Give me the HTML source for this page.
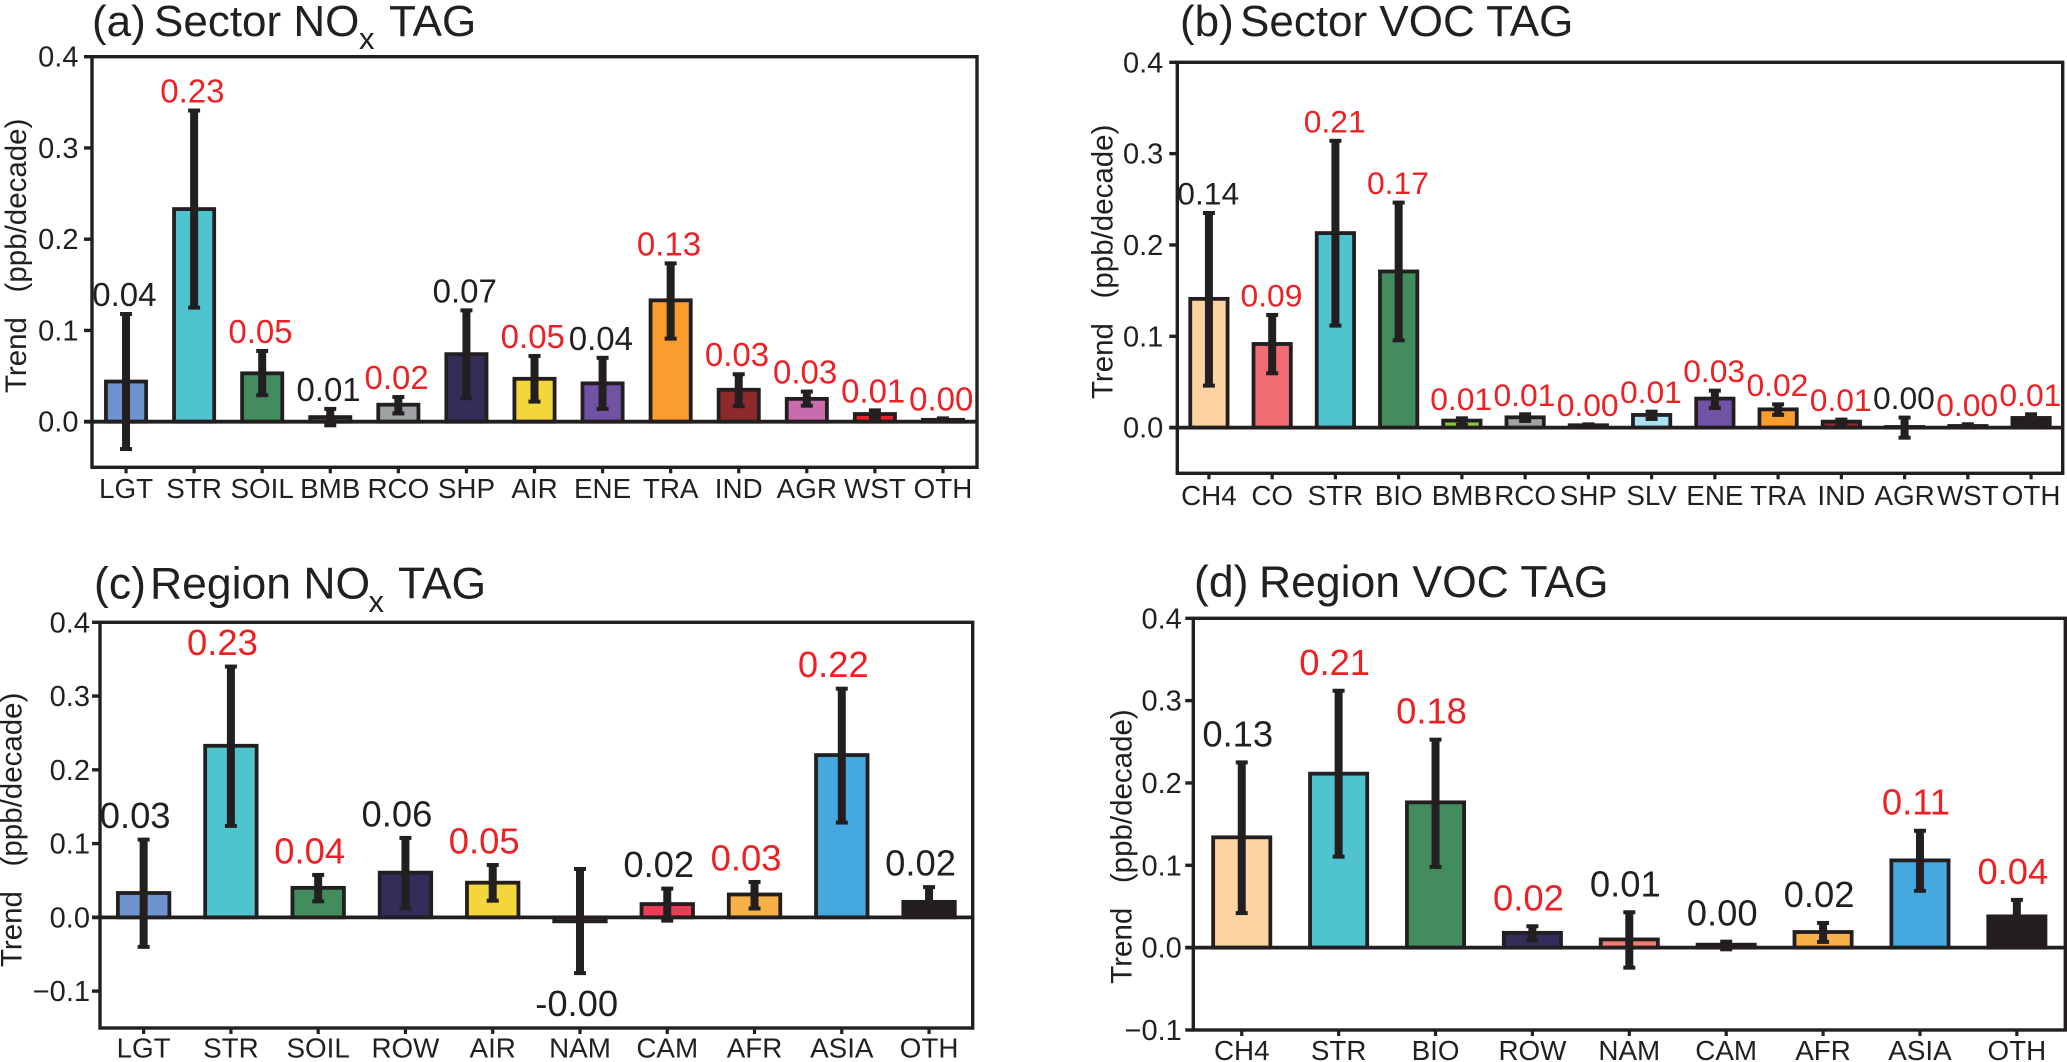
<!DOCTYPE html>
<html lang="en">
<head>
<meta charset="utf-8">
<title>Ozone trend by tag</title>
<style>
html,body{margin:0;padding:0;background:#fff;width:2067px;height:1062px;overflow:hidden}
svg{display:block}
text{font-family:"Liberation Sans",Arial,sans-serif;fill:#231f20}
</style>
</head>
<body>
<svg id="figure" width="2067" height="1062" viewBox="0 0 2067 1062" xmlns="http://www.w3.org/2000/svg">
  <rect width="2067" height="1062" fill="#ffffff"/>

  <g id="panel-a">
    <g font-size="44">
      <text x="92" y="36">(a)</text>
      <text x="154" y="36">Sector NO</text>
      <text x="359" y="49" font-size="31">x</text>
      <text x="389" y="36">TAG</text>
    </g>
    <text transform="translate(26,393) rotate(-90)" font-size="29.5">Trend&#160;&#160;&#160;(ppb/decade)</text>
  </g>

  <g id="panel-b">
    <g font-size="44">
      <text x="1180" y="36">(b)</text>
      <text x="1240" y="36">Sector VOC TAG</text>
    </g>
    <text transform="translate(1112.3,399) rotate(-90)" font-size="29.5">Trend&#160;&#160;&#160;(ppb/decade)</text>
  </g>

  <g id="panel-c">
    <g font-size="44.5">
      <text x="94" y="598.7">(c)</text>
      <text x="150" y="598.7">Region NO</text>
      <text x="368.5" y="612" font-size="31">x</text>
      <text x="398" y="598.7">TAG</text>
    </g>
    <text transform="translate(21.7,967) rotate(-90)" font-size="29.5">Trend&#160;&#160;&#160;(ppb/decade)</text>
  </g>

  <g id="panel-d">
    <g font-size="44.5">
      <text x="1194" y="597">(d)</text>
      <text x="1259" y="597">Region VOC TAG</text>
    </g>
    <text transform="translate(1131.7,983.7) rotate(-90)" font-size="29.5">Trend&#160;&#160;&#160;(ppb/decade)</text>
  </g>
</svg>

<script>
// ---------- Panel (a) data ----------
const aCategories = ['LGT','STR','SOIL','BMB','RCO','SHP','AIR','ENE','TRA','IND','AGR','WST','OTH'];
const aValues     = [0.044,0.233,0.053,0.005,0.0186,0.074,0.047,0.042,0.133,0.035,0.025,0.0084,0.002];
const aErrHigh    = [0.118,0.341,0.0775,0.014,0.027,0.122,0.072,0.070,0.1735,0.052,0.033,0.0124,0.0036];
const aErrLow     = [-0.030,0.125,0.029,-0.004,0.009,0.0256,0.022,0.014,0.091,0.017,0.0175,0.0044,0.001];
const aPrinted    = ['0.04','0.23','0.05','0.01','0.02','0.07','0.05','0.04','0.13','0.03','0.03','0.01','0.00'];
const aSignificant= [false,true,true,false,true,false,true,false,true,true,true,true,true];
const aYTicks     = [0,0.1,0.2,0.3,0.4];
const aYTickLabels= ['0.0','0.1','0.2','0.3','0.4'];

// ---------- Panel (b) data ----------
const bCategories = ['CH4','CO','STR','BIO','BMB','RCO','SHP','SLV','ENE','TRA','IND','AGR','WST','OTH'];
const bValues     = [0.141,0.0916,0.213,0.171,0.0077,0.0113,0.0026,0.0139,0.0318,0.020,0.0066,0.0007,0.0018,0.0106];
const bErrHigh    = [0.235,0.1234,0.314,0.2464,0.0102,0.0146,0.0036,0.0175,0.0405,0.0255,0.0088,0.011,0.0037,0.0146];
const bErrLow     = [0.046,0.0595,0.1117,0.0956,0.003,0.0073,0.001,0.0095,0.0215,0.0139,0.002,-0.011,0.001,0.007];
const bPrinted    = ['0.14','0.09','0.21','0.17','0.01','0.01','0.00','0.01','0.03','0.02','0.01','0.00','0.00','0.01'];
const bSignificant= [false,true,true,true,true,true,true,true,true,true,true,false,true,true];
const bYTicks     = [0,0.1,0.2,0.3,0.4];
const bYTickLabels= ['0.0','0.1','0.2','0.3','0.4'];

// ---------- Panel (c) data ----------
const cCategories = ['LGT','STR','SOIL','ROW','AIR','NAM','CAM','AFR','ASIA','OTH'];
const cValues     = [0.033,0.2326,0.040,0.0606,0.047,-0.0054,0.018,0.031,0.22,0.021];
const cErrHigh    = [0.1054,0.34,0.0575,0.1077,0.071,0.0656,0.039,0.048,0.31,0.041];
const cErrLow     = [-0.040,0.124,0.0217,0.012,0.0226,-0.0756,-0.0045,0.012,0.1285,0.002];
const cPrinted    = ['0.03','0.23','0.04','0.06','0.05','-0.00','0.02','0.03','0.22','0.02'];
const cSignificant= [false,true,true,false,true,false,false,true,true,false];
const cYTicks     = [-0.1,0,0.1,0.2,0.3,0.4];
const cYTickLabels= ['\u22120.1','0.0','0.1','0.2','0.3','0.4'];

// ---------- Panel (d) data ----------
const dCategories = ['CH4','STR','BIO','ROW','NAM','CAM','AFR','ASIA','OTH'];
const dValues     = [0.134,0.2113,0.1765,0.018,0.010,0.0036,0.019,0.106,0.038];
const dErrHigh    = [0.225,0.312,0.2526,0.026,0.043,0.0073,0.030,0.142,0.058];
const dErrLow     = [0.042,0.1105,0.098,0.009,-0.0243,-0.002,0.007,0.069,0.02];
const dPrinted    = ['0.13','0.21','0.18','0.02','0.01','0.00','0.02','0.11','0.04'];
const dSignificant= [false,true,true,true,false,false,false,true,true];
const dYTicks     = [-0.1,0,0.1,0.2,0.3,0.4];
const dYTickLabels= ['\u22120.1','0.0','0.1','0.2','0.3','0.4'];

// ---------- Styling and layout (not data) ----------
const INK = '#231f20';
const RED = '#ed2024';
const aPalette = {LGT:'#6f94cd',STR:'#4fc4cf',SOIL:'#438c5d',BMB:'#3d5a2c',RCO:'#a0a3a6',SHP:'#352d59',AIR:'#f3d53c',ENE:'#7153a5',TRA:'#fa9d2e',IND:'#8e2a2b',AGR:'#c96cad',WST:'#ed2228',OTH:'#231f20'};
const bPalette = {CH4:'#fbd4a2',CO:'#f26d73',STR:'#4fc4cf',BIO:'#438c5d',BMB:'#8ec63f',RCO:'#a0a3a6',SHP:'#352d59',SLV:'#abe2f6',ENE:'#7153a5',TRA:'#fa9d2e',IND:'#8e2a2b',AGR:'#c96cad',WST:'#ed2228',OTH:'#231f20'};
const cPalette = {LGT:'#6f94cd',STR:'#4fc4cf',SOIL:'#438c5d',ROW:'#352d59',AIR:'#f3d53c',NAM:'#f37e6e',CAM:'#ef3b57',AFR:'#f7b148',ASIA:'#45a9e0',OTH:'#231f20'};
const dPalette = {CH4:'#fbd4a2',STR:'#4fc4cf',BIO:'#438c5d',ROW:'#352d59',NAM:'#f37e6e',CAM:'#ef3b57',AFR:'#f7b148',ASIA:'#45a9e0',OTH:'#231f20'};

const SVG_NS = 'http://www.w3.org/2000/svg';
function mk(parent, tag, attrs, content) {
  const node = document.createElementNS(SVG_NS, tag);
  for (const k in attrs) node.setAttribute(k, attrs[k]);
  if (content !== undefined) node.textContent = content;
  parent.appendChild(node);
  return node;
}

function drawPanel(p) {
  const host = document.getElementById(p.id);
  const n = p.categories.length;
  const step = (p.right - p.left) / n;
  const xScale = i => p.left + (i + 0.5) * step;
  const yScale = v => p.top + (p.yMax - v) / (p.yMax - p.yMin) * (p.bottom - p.top);
  const barW = step * 0.59;
  let el;

  // y ticks + labels
  p.yTicks.forEach((t, i) => {
    el = mk(host, 'line', {x1: p.left - 8, x2: p.left, y1: yScale(t), y2: yScale(t), stroke: INK, 'stroke-width': 3.4});
    
    
    el = mk(host, 'text', {x: p.left - p.tickGap, y: yScale(t) + 10, 'text-anchor': 'end', 'font-size': 29}, p.yTickLabels[i]);
    
    
  });

  // x ticks + labels
  p.categories.forEach((c, i) => {
    el = mk(host, 'line', {x1: xScale(i), x2: xScale(i), y1: p.bottom, y2: p.bottom + 6, stroke: INK, 'stroke-width': 3.2});
    
    
    el = mk(host, 'text', {x: xScale(i), y: p.xLabelY, 'text-anchor': 'middle', 'font-size': 27.8}, c);
    
    
  });

  // bars
  p.categories.forEach((c, i) => {
    const v = p.values[i];
    const y1 = yScale(Math.max(v, 0));
    const y2 = yScale(Math.min(v, 0));
    el = mk(host, 'rect', {x: xScale(i) - barW / 2, y: y1, width: barW, height: y2 - y1, fill: p.palette[c], stroke: INK, 'stroke-width': 3.8});
    
    
  });

  // zero line
  el = mk(host, 'line', {x1: p.left - 8, x2: p.right, y1: yScale(0), y2: yScale(0), stroke: INK, 'stroke-width': 3.8});
  
  

  // error bars
  p.categories.forEach((c, i) => {
    const x = xScale(i);
    const hi = yScale(p.errHigh[i]);
    const lo = yScale(p.errLow[i]);
    el = mk(host, 'line', {x1: x, x2: x, y1: hi, y2: lo, stroke: INK, 'stroke-width': 8});
    
    
    el = mk(host, 'line', {x1: x - 6, x2: x + 6, y1: hi, y2: hi, stroke: INK, 'stroke-width': 4});
    
    
    el = mk(host, 'line', {x1: x - 6, x2: x + 6, y1: lo, y2: lo, stroke: INK, 'stroke-width': 4});
    
    
  });

  // printed values
  p.categories.forEach((c, i) => {
    const below = p.printed[i].charAt(0) === '-';
    const lx = xScale(i) + (below ? p.negLabelDx : p.labelDx);
    const ly = below ? yScale(p.errLow[i]) + 2 + p.negLabelGap : yScale(p.errHigh[i]) - 2 - p.labelGap;
    el = mk(host, 'text', {x: lx, y: ly, 'text-anchor': 'middle', 'font-size': p.labelSize}, p.printed[i]);
    el.style.fill = p.significant[i] ? RED : INK;
    
    
  });

  // frame
  el = mk(host, 'rect', {x: p.left, y: p.top, width: p.right - p.left, height: p.bottom - p.top, fill: 'none', stroke: INK, 'stroke-width': 3.4});
  
  
}

drawPanel({id:'panel-a', categories:aCategories, values:aValues, errHigh:aErrHigh, errLow:aErrLow, printed:aPrinted, significant:aSignificant,
  yTicks:aYTicks, yTickLabels:aYTickLabels, palette:aPalette,
  left:92, right:977, top:56.7, bottom:467.3, yMin:-0.05, yMax:0.4, xLabelY:498, tickGap:13.5,
  labelSize:33, labelDx:-1.7, labelGap:6, negLabelDx:-1.7, negLabelGap:30});

drawPanel({id:'panel-b', categories:bCategories, values:bValues, errHigh:bErrHigh, errLow:bErrLow, printed:bPrinted, significant:bSignificant,
  yTicks:bYTicks, yTickLabels:bYTickLabels, palette:bPalette,
  left:1177.3, right:2062.7, top:62.3, bottom:473.3, yMin:-0.05, yMax:0.4, xLabelY:505, tickGap:14,
  labelSize:31.8, labelDx:-0.7, labelGap:6.5, negLabelDx:-0.7, negLabelGap:30});

drawPanel({id:'panel-c', categories:cCategories, values:cValues, errHigh:cErrHigh, errLow:cErrLow, printed:cPrinted, significant:cSignificant,
  yTicks:cYTicks, yTickLabels:cYTickLabels, palette:cPalette,
  left:100, right:972.7, top:622.3, bottom:1028, yMin:-0.15, yMax:0.4, xLabelY:1057.5, tickGap:10,
  labelSize:36.4, labelDx:-8.5, labelGap:9.5, negLabelDx:-3.3, negLabelGap:41});

drawPanel({id:'panel-d', categories:dCategories, values:dValues, errHigh:dErrHigh, errLow:dErrLow, printed:dPrinted, significant:dSignificant,
  yTicks:dYTicks, yTickLabels:dYTickLabels, palette:dPalette,
  left:1193.3, right:2065.3, top:618.3, bottom:1030, yMin:-0.1, yMax:0.4, xLabelY:1060, tickGap:11.5,
  labelSize:36.4, labelDx:-4, labelGap:14, negLabelDx:-4, negLabelGap:41});
</script>
</body>
</html>
